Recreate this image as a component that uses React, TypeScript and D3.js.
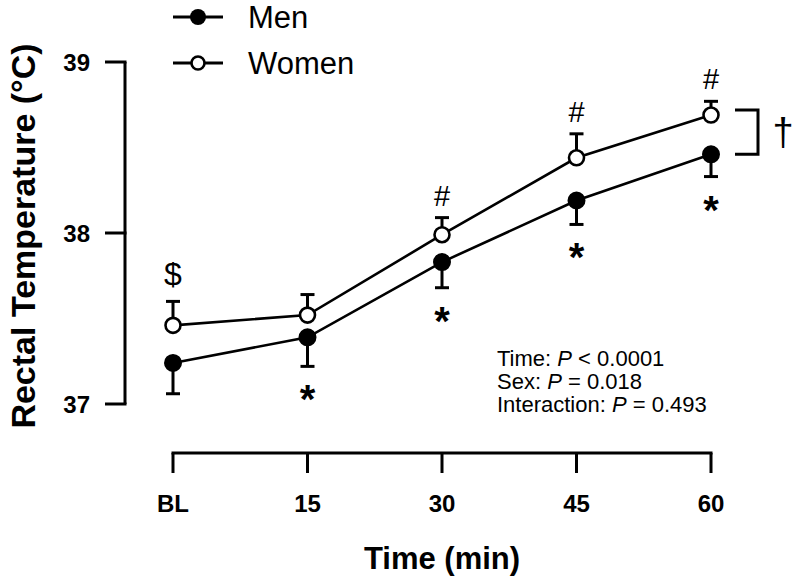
import React from "react";
import * as d3 from "d3";

const categories = ["BL", "15", "30", "45", "60"];
const menMean = [37.24, 37.39, 37.83, 38.19, 38.46];
const menSem = [0.18, 0.17, 0.15, 0.14, 0.13];
const womenMean = [37.46, 37.52, 37.99, 38.44, 38.69];
const womenSem = [0.14, 0.12, 0.1, 0.14, 0.08];
const yTicks = [37, 38, 39];
const womenMarks = ["$", "", "#", "#", "#"];
const menMarks = ["", "*", "*", "*", "*"];
const statsLines = [
  { label: "Time: ", op: " < 0.0001" },
  { label: "Sex: ", op: " = 0.018" },
  { label: "Interaction: ", op: " = 0.493" },
];
const seriesNames = ["Men", "Women"];

const FONT = "'Liberation Sans', Arial, Helvetica, sans-serif";

export default function App() {
  const x = d3.scalePoint<string>().domain(categories).range([173, 711]);
  const y = d3.scaleLinear().domain([37, 39]).range([404, 62]);
  const line = d3
    .line<number>()
    .x((_, i) => x(categories[i]) as number)
    .y((d) => y(d));

  const r = 8;
  const capW = 7;
  const lw = 3;

  return (
    <svg
      width={795}
      height={584}
      style={{ position: "absolute", left: 0, top: 0, background: "#fff" }}
      fontFamily={FONT}
    >
      {/* Y axis */}
      <line x1={125} x2={125} y1={y(39)} y2={y(37)} stroke="#000" strokeWidth={lw} />
      {yTicks.map((t) => (
        <g key={t}>
          <line x1={105} x2={126.5} y1={y(t)} y2={y(t)} stroke="#000" strokeWidth={lw} />
          <text
            x={90}
            y={y(t)}
            dy="0.36em"
            textAnchor="end"
            fontSize={24}
            fontWeight="bold"
          >
            {t}
          </text>
        </g>
      ))}
      <text
        transform={`translate(35, ${(y(39) + y(37)) / 2 + 3}) rotate(-90)`}
        textAnchor="middle"
        fontSize={34}
        fontWeight="bold"
      >
        Rectal Temperature (°C)
      </text>

      {/* X axis */}
      <line
        x1={(x("BL") as number) - 1.5}
        x2={(x("60") as number) + 1.5}
        y1={453}
        y2={453}
        stroke="#000"
        strokeWidth={lw}
      />
      {categories.map((c) => (
        <g key={c}>
          <line x1={x(c)} x2={x(c)} y1={453} y2={473} stroke="#000" strokeWidth={lw} />
          <text
            x={x(c)}
            y={512}
            textAnchor="middle"
            fontSize={24}
            fontWeight="bold"
          >
            {c}
          </text>
        </g>
      ))}
      <text x={442} y={569} textAnchor="middle" fontSize={31} fontWeight="bold">
        Time (min)
      </text>

      {/* Error bars */}
      {menMean.map((m, i) => {
        const cx = x(categories[i]) as number;
        const y0 = y(m);
        const y1 = y(m - menSem[i]);
        return (
          <g key={"me" + i}>
            <line x1={cx} x2={cx} y1={y0} y2={y1} stroke="#000" strokeWidth={lw} />
            <line x1={cx - capW} x2={cx + capW} y1={y1} y2={y1} stroke="#000" strokeWidth={lw} />
          </g>
        );
      })}
      {womenMean.map((m, i) => {
        const cx = x(categories[i]) as number;
        const y0 = y(m);
        const y1 = y(m + womenSem[i]);
        return (
          <g key={"we" + i}>
            <line x1={cx} x2={cx} y1={y0} y2={y1} stroke="#000" strokeWidth={lw} />
            <line x1={cx - capW} x2={cx + capW} y1={y1} y2={y1} stroke="#000" strokeWidth={lw} />
          </g>
        );
      })}

      {/* Lines */}
      <path d={line(menMean) || ""} fill="none" stroke="#000" strokeWidth={2.6} />
      <path d={line(womenMean) || ""} fill="none" stroke="#000" strokeWidth={2.6} />

      {/* Points */}
      {menMean.map((m, i) => (
        <circle key={"mp" + i} cx={x(categories[i])} cy={y(m)} r={r} fill="#000" stroke="#000" strokeWidth={2} />
      ))}
      {womenMean.map((m, i) => (
        <circle key={"wp" + i} cx={x(categories[i])} cy={y(m)} r={r - 0.5} fill="#fff" stroke="#000" strokeWidth={2.6} />
      ))}

      {/* Significance marks */}
      {womenMarks.map((s, i) =>
        s ? (
          <text
            key={"wm" + i}
            x={x(categories[i])}
            y={y(womenMean[i] + womenSem[i]) - (s === "$" ? 16 : 12)}
            textAnchor="middle"
            fontSize={s === "$" ? 32 : 29}
          >
            {s}
          </text>
        ) : null
      )}
      {menMarks.map((s, i) =>
        s ? (
          <text
            key={"mm" + i}
            x={x(categories[i])}
            y={y(menMean[i] - menSem[i]) + 47}
            textAnchor="middle"
            fontSize={40}
            fontWeight="bold"
          >
            {s}
          </text>
        ) : null
      )}

      {/* Bracket with dagger */}
      {(() => {
        const last = categories.length - 1;
        const yt = y(womenMean[last]) - 5;
        const yb = y(menMean[last]);
        const bx0 = 735;
        const bx1 = 758;
        return (
          <g>
            <path
              d={`M${bx0},${yt} H${bx1} V${yb} H${bx0}`}
              fill="none"
              stroke="#000"
              strokeWidth={lw}
            />
            <text x={783} y={(yt + yb) / 2 + 13} textAnchor="middle" fontSize={38}>
              †
            </text>
          </g>
        );
      })()}

      {/* Stats text */}
      {statsLines.map((l, i) => (
        <text key={"s" + i} x={497} y={366 + i * 23} fontSize={22}>
          {l.label}
          <tspan fontStyle="italic">P</tspan>
          {l.op}
        </text>
      ))}

      {/* Legend */}
      {seriesNames.map((n, i) => {
        const ly = 17 + i * 46;
        return (
          <g key={n}>
            <line x1={173} x2={223} y1={ly} y2={ly} stroke="#000" strokeWidth={lw} />
            {i === 0 ? (
              <circle cx={198} cy={ly} r={8} fill="#000" />
            ) : (
              <circle cx={198} cy={ly} r={6.5} fill="#fff" stroke="#000" strokeWidth={2.6} />
            )}
            <text x={248} y={ly} dy="0.36em" fontSize={31}>
              {n}
            </text>
          </g>
        );
      })}
    </svg>
  );
}
